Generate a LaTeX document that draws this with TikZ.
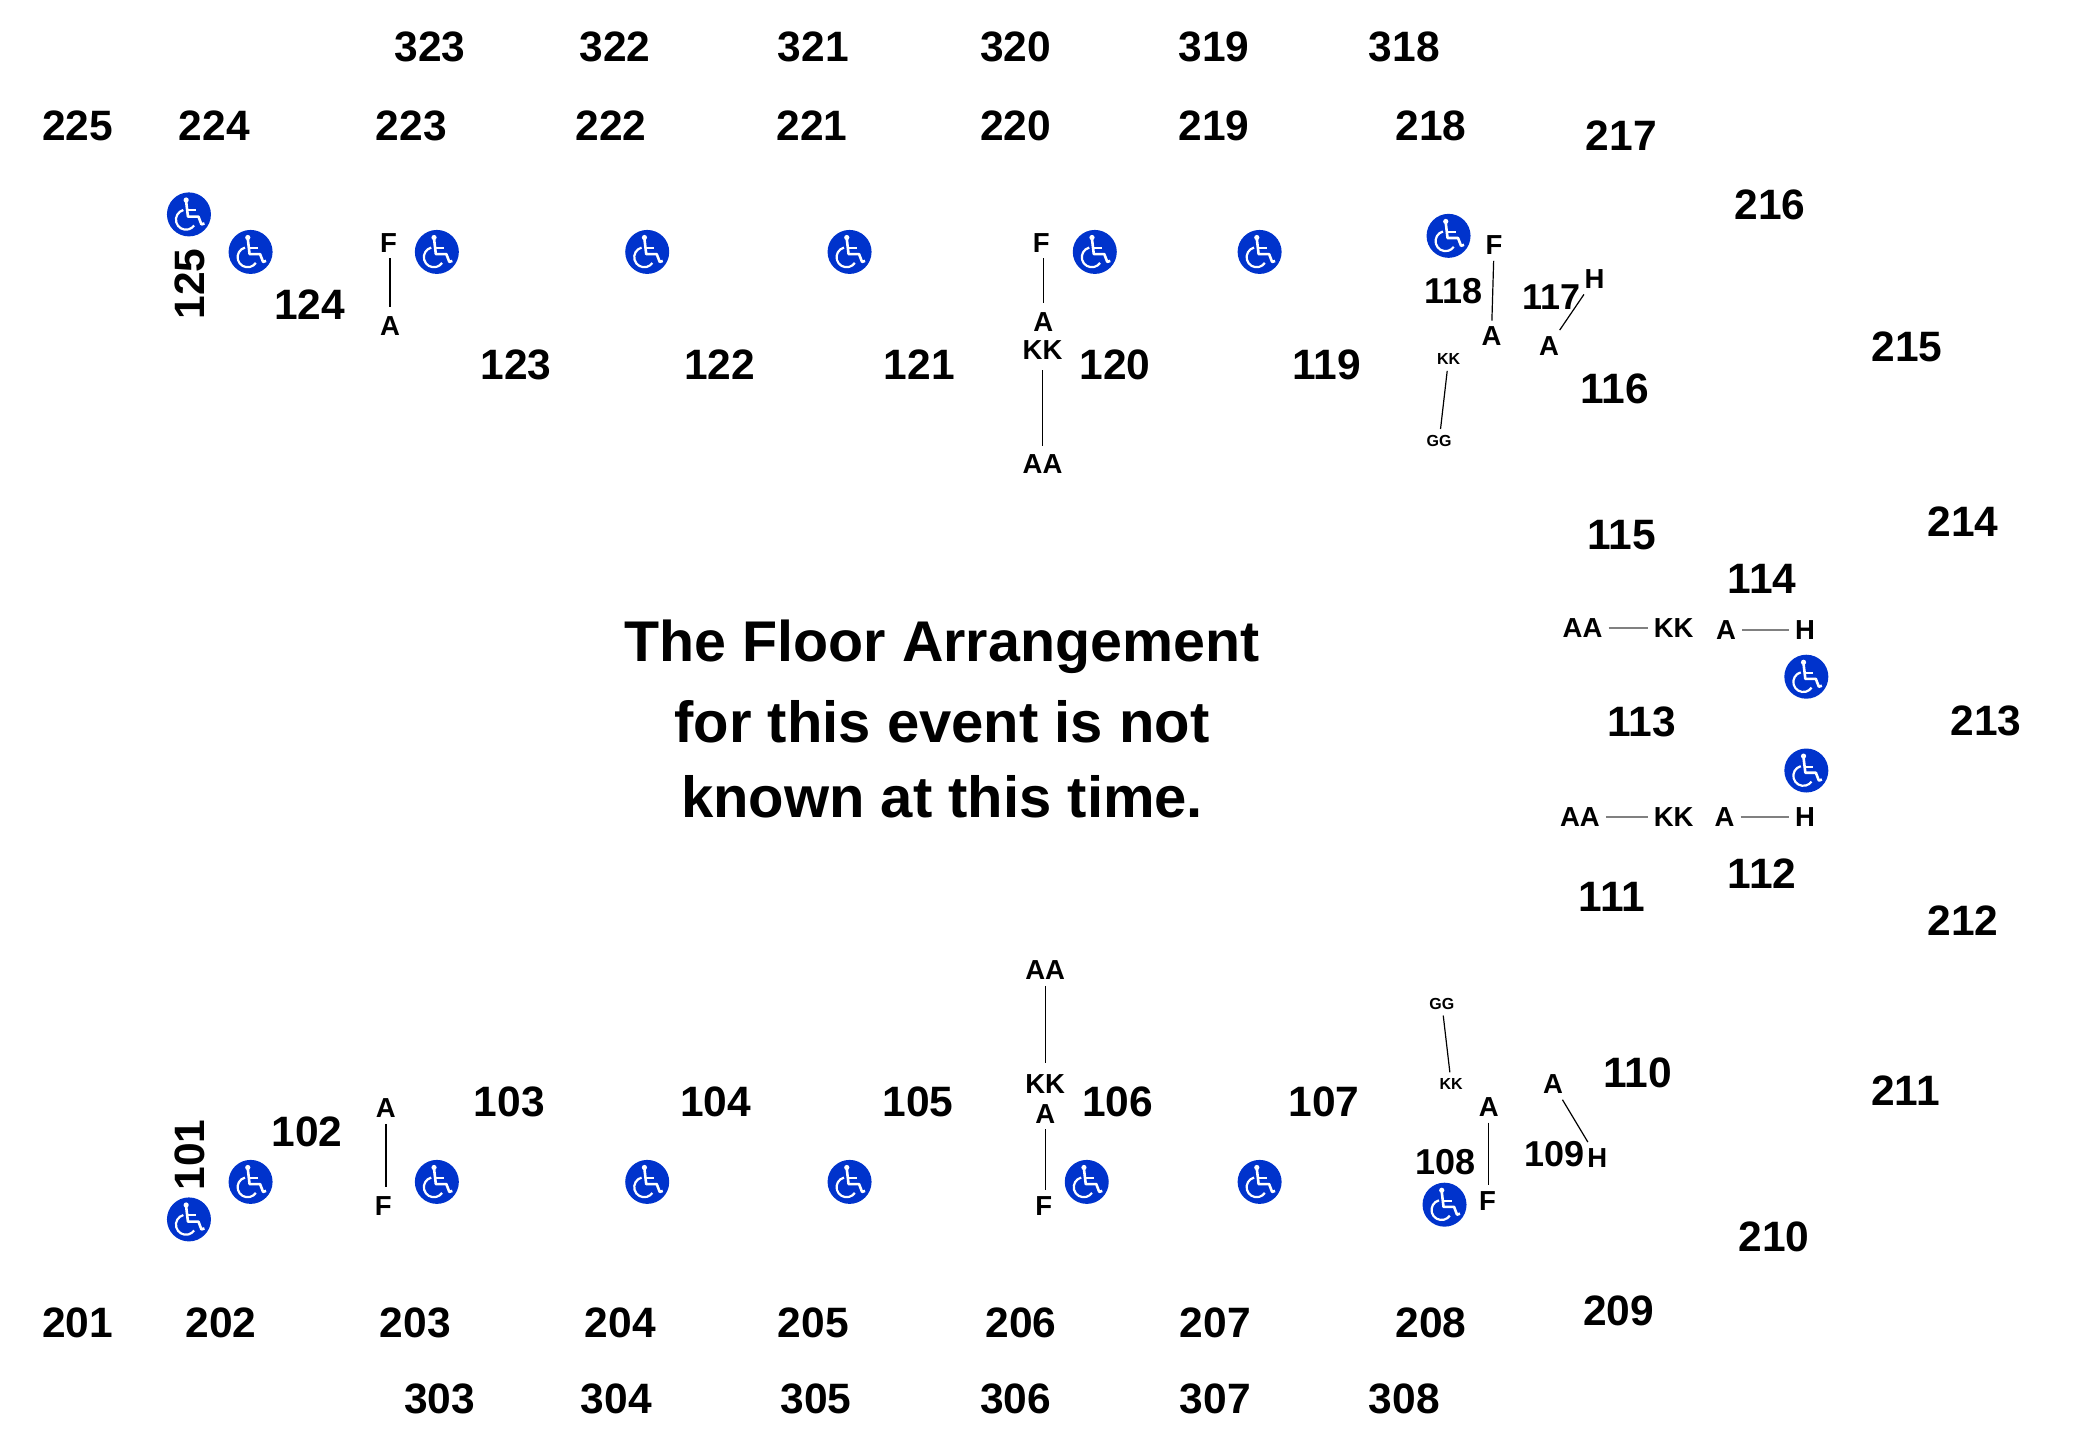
\documentclass[tikz,border=0pt]{standalone}
\usepackage{fontspec}
\setmainfont{Liberation Sans}[Ligatures=TeX]
\definecolor{wcblue}{HTML}{0033CC}
\tikzset{
  sec/.style={inner sep=0pt,font=\fontsize{42.5}{46}\selectfont\bfseries},
  secs/.style={inner sep=0pt,font=\fontsize{36}{37}\selectfont\bfseries},
  seat/.style={inner sep=6pt,font=\fontsize{27.5}{29}\selectfont\bfseries},
  seats/.style={inner sep=6pt,font=\fontsize{16}{18}\selectfont\bfseries},
  title/.style={inner sep=0pt,anchor=base,font=\fontsize{58}{60}\selectfont\bfseries},
  lnk/.style={draw=black,line width=1.2pt},
  lnkg/.style={draw=black!50,line width=2pt},
  wheelchair/.pic={
    \fill[wcblue] (0pt,0pt) circle (22pt);
    \fill[white] (-2.8pt,14.4pt) circle (2.6pt);
    \draw[white,line width=2.6pt,line join=round] (-2.8pt,13pt) -- (-1pt,-2.2pt) -- (9.5pt,-2.2pt) -- (12.5pt,-10pt) -- (15.5pt,-9pt);
    \draw[white,line width=2pt] (-1.6pt,4pt) -- (7pt,4pt);
    \draw[white,line width=2.2pt] (-3pt,-5.3pt) ++(105:10pt) arc (105:325:10pt);
  }
}
\begin{document}
\begin{tikzpicture}[x=1.34pt,y=-1.34pt]
\useasboundingbox (0,0) rectangle (1567.16,1074.63);
\foreach \n/\x/\y in {323/321/35,322/459/35,321/607/35,320/758/35,319/906/35,318/1048/35,
 225/58/94,224/160/94,223/307/94,222/456/94,221/606/94,220/758/94,219/906/94,218/1068/94,
 217/1210/101,216/1321/153,215/1423/259,214/1465/389,213/1482/538,212/1465/687,211/1422/814,
 210/1324/923,209/1208/978,208/1068/987,207/907/987,206/762/987,205/607/987,204/463/987,
 203/310/987,202/165/987,201/58/987,
 303/328/1044,304/460/1044,305/609/1044,306/758/1044,307/907/1044,308/1048/1044,
 124/231/227,123/385/272,122/537/272,121/686/272,120/832/272,119/990/272,116/1205/290,
 115/1210/399,114/1315/432,113/1225/539,112/1315/652,111/1203/669,110/1222/801,
 107/988/822,106/834/822,105/685/822,104/534/822,103/380/822,102/229/845}
  \node[sec] (s\n) at (\x,\y) {\n};
\node[sec,rotate=90] (s125) at (142,212) {125};
\node[sec,rotate=90] (s101) at (142,862) {101};
\foreach \n/\x/\y in {118/1085/217,117/1158/222,109/1160/861,108/1079/867}
  \node[secs] (s\n) at (\x,\y) {\n};
\node[title,font=\fontsize{57.4}{60}\selectfont\bfseries] (t1) at (703,494) {The Floor Arrangement};
\node[title] (t2) at (703,554) {for this event is not};
\node[title] (t3) at (703,610) {known at this time.};
% seat labels
\node[seat] (a1) at (290,181) {F};
\node[seat] (a2) at (291,243) {A};
\draw[lnk,shorten >=3pt] (a2.north |- a1.south) -- (a2.north);
\node[seat] (b1) at (777,181) {F};
\node[seat] (b2) at (778.5,240) {A};
\node[seat] (b3) at (778,261) {KK};
\node[seat] (b4) at (778,346) {AA};
\draw[lnk,shorten >=3pt] (b2.north |- b1.south) -- (b2.north);
\draw[lnk,shorten <=5pt,shorten >=2pt] (b3) -- (b4);
\node[seat] (c1) at (1115,183) {F};
\node[seat] (c2) at (1113,251) {A};
\draw[lnk] (c1) -- (c2);
\node[seat] (d1) at (1190,208) {H};
\node[seat] (d2) at (1156,258) {A};
\draw[lnk] (d1) -- (d2);
\node[seats] (e1) at (1081,268) {KK};
\node[seats] (e2) at (1074,329) {GG};
\draw[lnk] (e1) -- (e2);
\node[seat] (f1) at (1181,469) {AA};
\node[seat] (f2) at (1249,469) {KK};
\node[seat] (f3) at (1288,470) {A};
\node[seat] (f4) at (1347,470) {H};
\draw[lnkg] (f1) -- (f2);
\draw[lnkg] (f3) -- (f4);
\node[seat] (g1) at (1179,610) {AA};
\node[seat] (g2) at (1249,610) {KK};
\node[seat] (g3) at (1287,610) {A};
\node[seat] (g4) at (1347,610) {H};
\draw[lnkg] (g1) -- (g2);
\draw[lnkg] (g3) -- (g4);
\node[seat] (h1) at (288,827) {A};
\node[seat] (h2) at (286,900) {F};
\draw[lnk,shorten >=3pt] (h1.south) -- (h1.south |- h2.north);
\node[seat] (i1) at (780,724) {AA};
\node[seat] (i2) at (780,809) {KK};
\node[seat] (i3) at (780,831) {A};
\node[seat] (i4) at (779,900) {F};
\draw[lnk,shorten >=5pt] (i1) -- (i2);
\draw[lnk] (i3.south) -- (i3.south |- i4.north);
\node[seat] (j1) at (1111,826) {A};
\node[seat] (j2) at (1110,896) {F};
\draw[lnk] (j1.south) -- (j1.south |- j2.north);
\node[seat] (k1) at (1159,809) {A};
\node[seat] (k2) at (1192,864) {H};
\draw[lnk] (k1) -- (k2);
\node[seats] (l1) at (1076,749) {GG};
\node[seats] (l2) at (1083,809) {KK};
\draw[lnk] (l1) -- (l2);
% wheelchair icons
\foreach \x/\y in {141/160,187/188,326/188,483/188,634/188,817/188,940/188,1081/176,1348/505,1348/575,
 187/882,326/882,483/882,634/882,811/882,940/882,1078/899,141/910}
  \pic at (\x,\y) {wheelchair};
\end{tikzpicture}
\end{document}
